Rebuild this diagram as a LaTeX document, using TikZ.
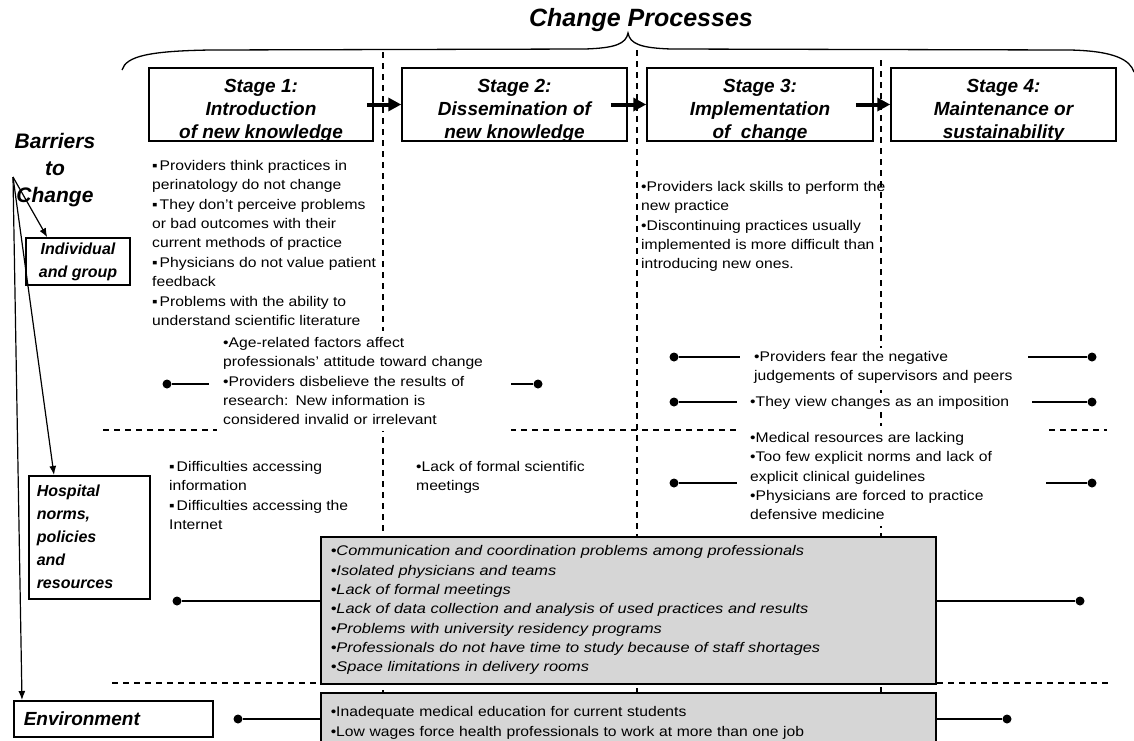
\documentclass[tikz,border=0pt]{standalone}
\usepackage{fontspec}
\setmainfont{Liberation Sans}
\newfontfamily\bodyfont{Liberation Sans}[FakeStretch=1.12]
\newfontfamily\grayitfont{Liberation Sans Italic}[FakeStretch=1.17]
\usetikzlibrary{arrows.meta,calc}
\tikzset{
  stagebox/.style={draw,line width=1.5pt,minimum width=225pt,minimum height=73pt},
  stagetext/.style={align=center,inner sep=0pt,font=\bfseries\itshape\fontsize{19}{23}\selectfont},
  sidebox/.style={draw,line width=1.5pt,font=\bfseries\itshape\fontsize{16}{23}\selectfont},
  graybox/.style={draw,line width=1.5pt,fill=black!16,anchor=north west,align=left,inner xsep=10pt,text width=595pt,minimum width=615pt,font=\bodyfont\fontsize{14}{19.3}\selectfont},
  txt/.style={anchor=north west,inner sep=0pt,align=left,font=\bodyfont\fontsize{14}{19.4}\selectfont},
  masked/.style={txt,fill=white},
  enddot/.style={circle,fill,inner sep=0pt,minimum size=9pt},
  link/.style={line width=1.5pt},
  sepline/.style={line width=1.3pt,dash pattern=on 6pt off 5pt},
  stagearrow/.style={line width=4pt,-{Triangle[length=13pt,width=13pt]}},
  barrierarrow/.style={line width=1.2pt,-{Latex[length=9pt,width=7pt]}}
}
\begin{document}
\begin{tikzpicture}[x=1pt,y=-1pt]
\useasboundingbox (0,0) rectangle (1134,740);
\node [font=\bfseries\itshape\fontsize{25}{28}\selectfont] (title) at (641,20) {Change Processes};
\draw [line width=1.3pt] (122,70) .. controls (126,56) and (150,51) .. (210,50) -- (585,49) .. controls (615,48) and (626,44) .. (628,33) .. controls (630,44) and (641,48) .. (671,49) -- (1070,50) .. controls (1115,51) and (1130,60) .. (1134,72);
\draw [sepline] (383,52) -- (383,740);
\draw [sepline] (637,50) -- (637,740);
\draw [sepline] (881,60) -- (881,740);
\draw [sepline] (103,430) -- (1107,430);
\draw [sepline] (112,683) -- (1112,683);
\node [stagebox,minimum width=224pt] (s1) at (261,104.5) {};
\node [stagebox] (s2) at (514.5,104.5) {};
\node [stagebox,minimum width=226pt] (s3) at (760,104.5) {};
\node [stagebox] (s4) at (1003.5,104.5) {};
\node [stagetext] (s1text) at ([yshift=-6pt]s1.center) {Stage 1:\\Introduction\\of new knowledge};
\node [stagetext] (s2text) at ([yshift=-6pt]s2.center) {Stage 2:\\Dissemination of\\new knowledge};
\node [stagetext] (s3text) at ([yshift=-6pt]s3.center) {Stage 3:\\Implementation\\of\ \ change};
\node [stagetext] (s4text) at ([yshift=-6pt]s4.center) {Stage 4:\\Maintenance or\\sustainability};
\draw [stagearrow] ([xshift=-7pt]s1.east) -- (s2.west);
\draw [stagearrow] ([xshift=-17pt]s2.east) -- (s3.west);
\draw [stagearrow] ([xshift=-18pt]s3.east) -- (s4.west);
\node [align=center,font=\bfseries\itshape\fontsize{21}{27}\selectfont] (barriers) at (55,170) {Barriers\\to\\Change};
\node [sidebox,align=center,minimum width=104pt,minimum height=47pt] (indiv) at (78,261.5) {Individual\\and group};
\node [sidebox,anchor=north west,align=left,inner xsep=8pt,text width=105pt,minimum height=123pt] (hosp) at (28,475) {Hospital\\norms,\\policies\\and\\resources};
\node [sidebox,anchor=north west,align=left,inner xsep=10pt,text width=179pt,minimum height=36pt,font=\bfseries\itshape\fontsize{19}{22}\selectfont] (env) at (13,700) {Environment};
\coordinate (fork) at (13,177);
\draw [barrierarrow] (fork) -- ($(indiv.north west)+(22,0)$);
\draw [barrierarrow] (fork) -- ($(hosp.north west)+(26,0)$);
\draw [barrierarrow] (fork) -- ($(env.north west)+(9,0)$);
\node [txt] (indivA) at (152,160) {▪\kern2pt Providers think practices in\\perinatology do not change\\▪\kern2pt They don’t perceive problems\\or bad outcomes with their\\current methods of practice\\▪\kern2pt Physicians do not value patient\\feedback\\▪\kern2pt Problems with the ability to\\understand scientific literature};
\node [txt] (indivC) at (641,181) {•Providers lack skills to perform the\\new practice\\•Discontinuing practices usually\\implemented is more difficult than\\introducing new ones.};
\node [masked,inner xsep=6pt,inner ysep=6pt,text width=282pt] (age) at (217,331) {•Age-related factors affect\\professionals’ attitude toward change\\•Providers disbelieve the results of\\research: New information is\\considered invalid or irrelevant};
\node [masked,inner xsep=14pt,inner ysep=3pt,text width=260pt] (fear) at (740,348) {•Providers fear the negative\\judgements of supervisors and peers};
\node [masked,inner xsep=13pt,inner ysep=3pt,text width=269pt] (view) at (737,393) {•They view changes as an imposition};
\node [masked,inner xsep=13pt,inner ysep=6pt,text width=283pt] (med) at (737,426) {•Medical resources are lacking\\•Too few explicit norms and lack of\\explicit clinical guidelines\\•Physicians are forced to practice\\defensive medicine};
\node [txt] (hospA) at (169,461) {▪\kern2pt Difficulties accessing\\information\\▪\kern2pt Difficulties accessing the\\Internet};
\node [txt] (hospB) at (416,461) {•Lack of formal scientific\\meetings};
\node [graybox,minimum height=147pt,font=\grayitfont\fontsize{14}{19.3}\selectfont] (grayA) at (320,536) {•Communication and coordination problems among professionals\\•Isolated physicians and teams\\•Lack of formal meetings\\•Lack of data collection and analysis of used practices and results\\•Problems with university residency programs\\•Professionals do not have time to study because of staff shortages\\•Space limitations in delivery rooms};
\node [graybox,minimum height=60pt] (grayB) at (320,692) {•Inadequate medical education for current students\\•Low wages force health professionals to work at more than one job};
\node [enddot] (ageL) at (167,384) {};
\node [enddot] (ageR) at (538,384) {};
\draw [link,shorten >=8pt] (ageL) -- (ageL -| age.west);
\draw [link] (age.east |- ageR) -- (ageR);
\node [enddot] (fearL) at (674,357) {};
\node [enddot] (fearR) at (1092,357) {};
\draw [link] (fearL) -- (fearL -| fear.west);
\draw [link] (fear.east |- fearR) -- (fearR);
\node [enddot] (viewL) at (674,402) {};
\node [enddot] (viewR) at (1092,402) {};
\draw [link] (viewL) -- (viewL -| view.west);
\draw [link] (view.east |- viewR) -- (viewR);
\node [enddot] (medL) at (674,483) {};
\node [enddot] (medR) at (1092,483) {};
\draw [link] (medL) -- (medL -| med.west);
\draw [link] (med.east |- medR) -- (medR);
\node [enddot] (hospL) at (177,601) {};
\node [enddot] (hospR) at (1080,601) {};
\draw [link] (hospL) -- (hospL -| grayA.west);
\draw [link] (grayA.east |- hospR) -- (hospR);
\node [enddot] (envL) at (238,719) {};
\node [enddot] (envR) at (1007,719) {};
\draw [link] (envL) -- (envL -| grayB.west);
\draw [link] (grayB.east |- envR) -- (envR);
\end{tikzpicture}
\end{document}
